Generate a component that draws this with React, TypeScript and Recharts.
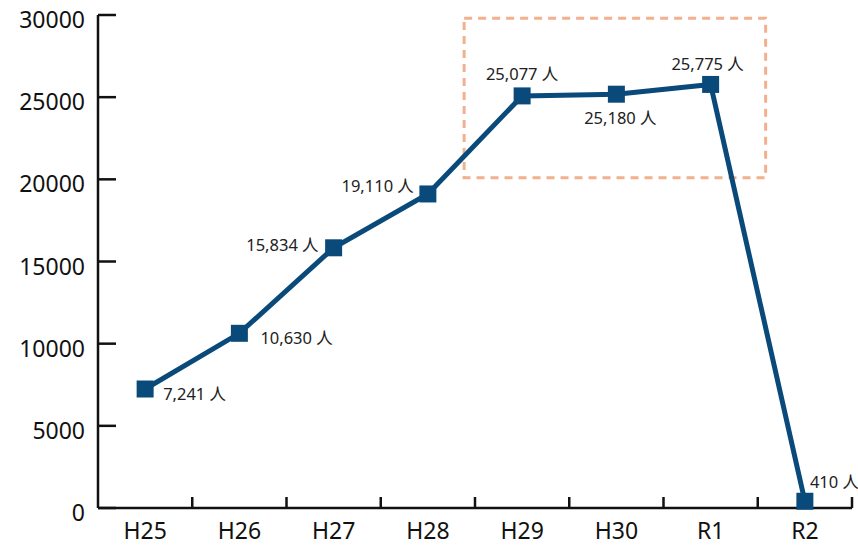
import React from "react";
import {
  LineChart,
  Line,
  XAxis,
  YAxis,
  ReferenceArea,
  LabelList,
} from "recharts";

// 年度別の人数
const years = ["H25", "H26", "H27", "H28", "H29", "H30", "R1", "R2"];
const people = [7241, 10630, 15834, 19110, 25077, 25180, 25775, 410];
const yTicks = [0, 5000, 10000, 15000, 20000, 25000, 30000];

// ラベルの位置 (点からのずれ)
const labelOffsets: [number, number, "start" | "middle" | "end"][] = [
  [18, 4, "start"],
  [21, 4, "start"],
  [-15, -3, "end"],
  [-14, -8, "end"],
  [0, -22, "middle"],
  [4, 23, "middle"],
  [-3, -21, "middle"],
  [5, -20, "start"],
];

const data = years.map((year, i) => ({ year, people: people[i] }));

const W = 858;
const H = 548;
const MARGIN = { top: 15, right: 6, left: 8, bottom: 0 };
const Y_AXIS_W = 90;
const PLOT_LEFT = MARGIN.left + Y_AXIS_W;
const BAND = (W - PLOT_LEFT - MARGIN.right) / years.length;

const LINE_COLOR = "#0a4a7b";
const AXIS_COLOR = "#111";
const FONT = "'Noto Sans', 'Noto Sans CJK JP', sans-serif";

// 目盛り線は各年度の区切りに置く
const XTick = (props: any) => {
  const { x, y, payload } = props;
  return (
    <g>
      <line
        x1={x + BAND / 2}
        x2={x + BAND / 2}
        y1={y}
        y2={y - 11}
        stroke={AXIS_COLOR}
        strokeWidth={2.5}
      />
      <text
        x={x}
        y={y + 22}
        textAnchor="middle"
        dominantBaseline="central"
        fontSize={23}
        fontFamily={FONT}
        fill="#111"
      >
        {payload.value}
      </text>
    </g>
  );
};

const YTick = (props: any) => {
  const { x, y, payload } = props;
  return (
    <g>
      <line x1={x} x2={x + 18} y1={y} y2={y} stroke={AXIS_COLOR} strokeWidth={2.5} />
      <text
        x={x - 13}
        y={y + 4}
        textAnchor="end"
        dominantBaseline="central"
        fontSize={23}
        fontFamily={FONT}
        fill="#111"
      >
        {payload.value}
      </text>
    </g>
  );
};

const SquareDot = (props: any) => {
  const { cx, cy, index } = props;
  if (cx == null || cy == null) return null;
  return (
    <rect
      key={`dot-${index}`}
      x={cx - 8.5}
      y={cy - 8.5}
      width={17}
      height={17}
      fill={LINE_COLOR}
    />
  );
};

const ValueLabel = (props: any) => {
  const { x, y, value, index } = props;
  const [dx, dy, anchor] = labelOffsets[index];
  return (
    <text
      x={x + dx}
      y={y + dy}
      textAnchor={anchor}
      dominantBaseline="central"
      fontSize={16.5}
      fontFamily={FONT}
      fill="#222"
    >
      {`${Number(value).toLocaleString("en-US")} 人`}
    </text>
  );
};

// 点線の枠 (H29〜R1 を囲む)
const DashedBox = (props: any) => {
  const { x, y, width, height } = props;
  return (
    <rect
      x={x - 58}
      y={y}
      width={width + 113}
      height={height}
      fill="none"
      stroke="#f2b08f"
      strokeWidth={3}
      strokeDasharray="8 6"
    />
  );
};

export default function App() {
  return (
    <div style={{ position: "absolute", left: 0, top: 0 }}>
      <LineChart width={W} height={H} data={data} margin={MARGIN}>
        <XAxis
          dataKey="year"
          height={40}
          padding={{ left: BAND / 2, right: BAND / 2 }}
          axisLine={{ stroke: AXIS_COLOR, strokeWidth: 2.5 }}
          tickLine={false}
          tickSize={0}
          tickMargin={0}
          tick={<XTick />}
          interval={0}
        />
        <YAxis
          width={Y_AXIS_W}
          domain={[0, 30000]}
          ticks={yTicks}
          axisLine={{ stroke: AXIS_COLOR, strokeWidth: 2.5 }}
          tickLine={false}
          tickSize={0}
          tickMargin={0}
          tick={<YTick />}
          interval={0}
        />
        <ReferenceArea
          x1="H29"
          x2="R1"
          y1={20100}
          y2={29800}
          shape={<DashedBox />}
          ifOverflow="visible"
        />
        <Line
          type="linear"
          dataKey="people"
          stroke={LINE_COLOR}
          strokeWidth={5}
          dot={<SquareDot />}
          activeDot={false}
          isAnimationActive={false}
        >
          <LabelList dataKey="people" content={<ValueLabel />} />
        </Line>
      </LineChart>
    </div>
  );
}
